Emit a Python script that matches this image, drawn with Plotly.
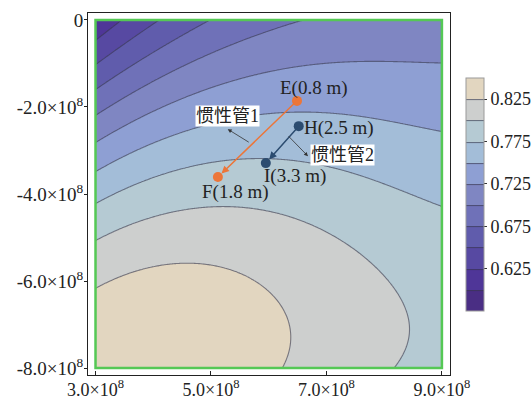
import numpy as np
import plotly.graph_objects as go

# ---- contour levels and band colours (0.575 ... 0.85, step 0.025) ----
level_start, level_end, level_step = 0.600, 0.825, 0.025
band_colors = [
    "#4A2E84", "#4F3698", "#5749A2", "#605CAC", "#6F71B8", "#7F86C2",
    "#8E9FD3", "#A3BDD8", "#B5CAD3", "#CDCFCE", "#E2D6C0",
]
cbar_ticks = [0.625, 0.675, 0.725, 0.775, 0.825]

# ---- points lying on each iso-line (x, y in units of 1e8) ----
iso_z = [0.625, 0.625,
         0.650, 0.650,
         0.675, 0.675,
         0.700, 0.700, 0.700,
         0.725, 0.725, 0.725, 0.725, 0.725, 0.725,
         0.750, 0.750, 0.750, 0.750, 0.750,
         0.775, 0.775, 0.775, 0.775, 0.775, 0.775, 0.775,
         0.800, 0.800, 0.800, 0.800, 0.800, 0.800, 0.800, 0.800,
         0.825, 0.825, 0.825, 0.825, 0.825, 0.825,
         0.612, 0.712, 0.790, 0.842]
iso_x = [3.00, 3.46,
         3.00, 4.08,
         3.00, 5.02,
         3.00, 5.94, 7.03,
         3.00, 4.46, 5.50, 7.06, 8.24, 9.00,
         3.00, 4.46, 5.94, 7.67, 9.00,
         3.00, 3.39, 5.12, 5.94, 7.10, 8.24, 9.00,
         3.00, 4.77, 5.94, 6.54, 7.67, 8.24, 8.45, 8.57,
         3.00, 4.20, 5.33, 5.94, 6.29, 6.45,
         3.00, 9.00, 9.00, 3.00]
iso_y = [-0.58, 0.00,
         -1.10, 0.00,
         -1.72, 0.00,
         -2.23, -0.34, 0.00,
         -2.83, -1.66, -1.36, -0.99, -0.97, -1.10,
         -3.52, -2.57, -2.14, -2.07, -2.53,
         -4.18, -3.91, -3.22, -3.22, -3.15, -3.91, -4.37,
         -4.97, -4.34, -4.48, -4.76, -5.45, -6.44, -7.08, -8.00,
         -5.98, -5.63, -5.95, -6.44, -7.08, -8.00,
         0.00, 0.00, -8.00, -8.00]

# ---- marked points (units of 1e8) ----
pt_names = ["E", "F", "H", "I"]
pt_x = [6.49, 5.12, 6.52, 5.95]
pt_y = [-1.86, -3.61, -2.44, -3.29]
pt_len = ["0.8 m", "1.8 m", "2.5 m", "3.3 m"]

x_ticks = [3.0, 5.0, 7.0, 9.0]
y_ticks = [0.0, -2.0, -4.0, -6.0, -8.0]

SCALE = 1e8


def basis(u, v):
    return np.stack([np.ones_like(u), u, v, u * u, u * v, v * v,
                     u ** 3, u * u * v, u * v * v, v ** 3], axis=-1)


def norm(x, y):
    return (np.asarray(x, float) - 6.0) / 3.0, (np.asarray(y, float) + 4.0) / 4.0


# smooth cubic surface through the iso-line points
uu, vv = norm(iso_x, iso_y)
coef, *_ = np.linalg.lstsq(basis(uu, vv), np.asarray(iso_z), rcond=None)

gx = np.linspace(3.0, 9.0, 241)
gy = np.linspace(-8.0, 0.0, 241)
GX, GY = np.meshgrid(gx, gy)
GU, GV = norm(GX, GY)
Z = basis(GU, GV) @ coef

n = len(band_colors)
colorscale = [[i / (n - 1), c] for i, c in enumerate(band_colors)]

SERIF = "Liberation Serif, Times New Roman, serif"
CJK = "Liberation Serif, Noto Sans CJK SC, serif"
FS = 19

fig = go.Figure()
fig.add_trace(go.Contour(
    x=gx * SCALE, y=gy * SCALE, z=Z,
    autocontour=False, zauto=False, zmin=0.575, zmax=0.85,
    contours=dict(start=level_start, end=level_end, size=level_step,
                  coloring="fill", showlines=True),
    line=dict(color="rgba(55,55,75,0.6)", width=1.1, smoothing=1),
    colorscale=colorscale,
    colorbar=dict(
        x=1.044, xanchor="left", xpad=0, y=0.4986, yanchor="middle", ypad=0,
        len=0.644, lenmode="fraction", thickness=18,
        outlinecolor="#9a9a9a", outlinewidth=1,
        tickvals=cbar_ticks, ticktext=[f"{t:.3f}" for t in cbar_ticks],
        ticks="outside", ticklen=3, tickcolor="#333",
        tickfont=dict(family=SERIF, size=18, color="#222"),
    ),
    hoverinfo="skip",
))

# frame of the computed domain
fig.add_shape(type="rect", x0=3.0 * SCALE, x1=9.0 * SCALE, y0=-8.0 * SCALE, y1=0.0,
              line=dict(color="#55C855", width=2.5), layer="above")

# inertance tube paths
orange, navy = "#EC7639", "#2C4C70"
paths = [(0, 1, orange), (2, 3, navy)]
for a, b, col in paths:
    fig.add_annotation(x=pt_x[b] * SCALE, y=pt_y[b] * SCALE,
                       ax=pt_x[a] * SCALE, ay=pt_y[a] * SCALE,
                       xref="x", yref="y", axref="x", ayref="y",
                       showarrow=True, arrowhead=2, arrowsize=1, arrowwidth=1.5,
                       arrowcolor=col, standoff=5, text="")

fig.add_trace(go.Scatter(
    x=np.array(pt_x) * SCALE, y=np.array(pt_y) * SCALE, mode="markers",
    marker=dict(size=10, color=[orange, orange, navy, navy]),
    hoverinfo="skip", showlegend=False,
))

# point labels
lab_pos = [(6.78, -1.56), (5.42, -3.95), (7.22, -2.48), (6.45, -3.59)]
for name, length, (lx, ly) in zip(pt_names, pt_len, lab_pos):
    fig.add_annotation(x=lx * SCALE, y=ly * SCALE, text=f"{name}({length})",
                       showarrow=False, font=dict(family=SERIF, size=FS, color="#222"))

# tube captions with leader arrows
captions = [("惯性管1", (5.29, -2.21), (5.68, -2.83), (5.29, -2.51)),
            ("惯性管2", (7.27, -3.10), (6.32, -2.64), (6.68, -3.13))]
for txt, (cx, cy), (tx, ty), (hx, hy) in captions:
    fig.add_annotation(x=hx * SCALE, y=hy * SCALE, ax=tx * SCALE, ay=ty * SCALE,
                       xref="x", yref="y", axref="x", ayref="y",
                       showarrow=True, arrowhead=2, arrowsize=1, arrowwidth=0.8,
                       arrowcolor="#333", text="")
    fig.add_annotation(x=cx * SCALE, y=cy * SCALE, text=txt, showarrow=False,
                       bgcolor="white", borderpad=0,
                       font=dict(family=CJK, size=FS - 1, color="#222"))

fig.update_xaxes(
    range=[2.87 * SCALE, 9.14 * SCALE],
    tickvals=[t * SCALE for t in x_ticks],
    ticktext=[f"{t:.1f}×10<sup>8</sup>" for t in x_ticks],
    showgrid=False, zeroline=False, showline=True, linecolor="#222", linewidth=1,
    mirror=True, ticks="inside", ticklen=4, tickcolor="#222",
    ticklabelstandoff=-2,
    tickfont=dict(family=SERIF, size=18, color="#222"),
)
fig.update_yaxes(
    range=[-8.16 * SCALE, 0.16 * SCALE],
    tickvals=[t * SCALE for t in y_ticks],
    ticktext=["0" if t == 0 else f"{t:.1f}×10<sup>8</sup>" for t in y_ticks],
    showgrid=False, zeroline=False, showline=True, linecolor="#222", linewidth=1,
    mirror=True, ticks="outside", ticklen=3, tickcolor="#222",
    ticklabelstandoff=-3,
    tickfont=dict(family=SERIF, size=FS, color="#222"),
)
fig.update_layout(
    width=532, height=399,
    margin=dict(l=88, r=82, t=13, b=24, autoexpand=False),
    paper_bgcolor="white", plot_bgcolor="white",
    showlegend=False,
)

fig.write_html("out.html")
